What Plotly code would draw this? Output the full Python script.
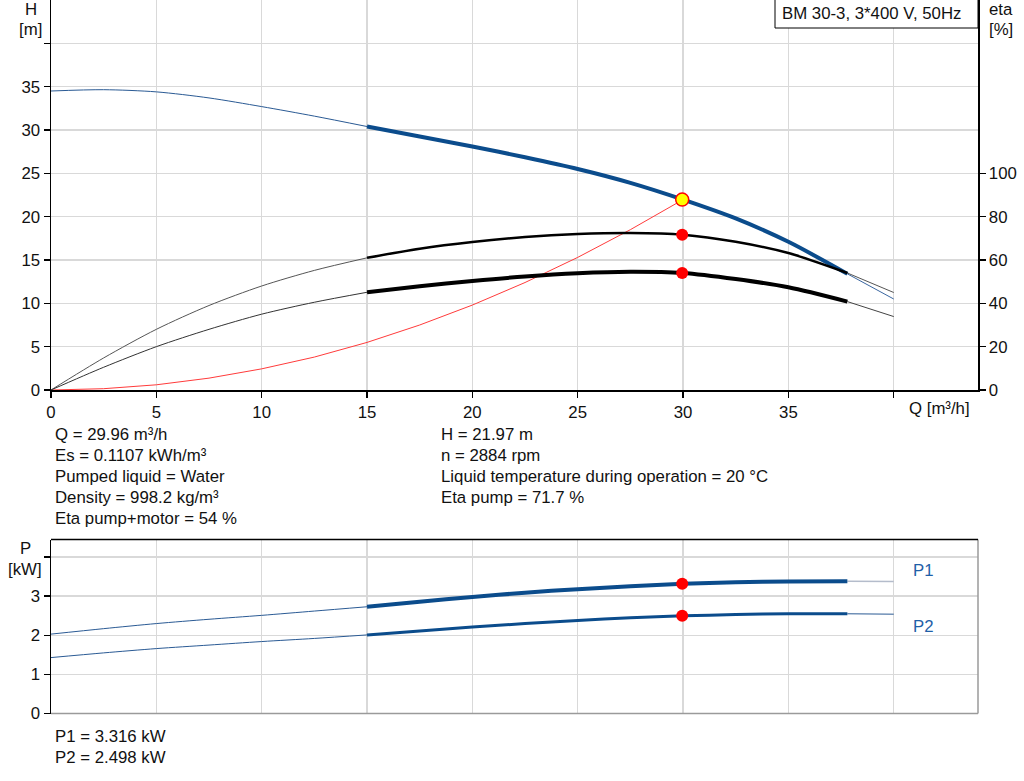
import plotly.graph_objects as go

# ---------------- data ----------------
Q = [0, 2.5, 5, 7.5, 10, 12.5, 15, 17.5, 20, 22.5, 25, 27.5, 30, 32.5, 35, 37.8, 40]
H = [34.5, 34.65, 34.4, 33.7, 32.7, 31.6, 30.4, 29.25, 28.1, 26.85, 25.5, 23.9, 21.97, 19.8, 17.1, 13.4, 10.5]
ETA_PUMP = [0, 14.8, 28, 39, 48, 55.2, 61, 65.2, 68.3, 70.6, 72, 72.5, 71.7, 68.4, 63.2, 54, 45]
ETA_PM = [0, 10.5, 20, 28, 35, 40.5, 45.1, 47.9, 50.3, 52.4, 53.9, 54.6, 54, 51.2, 47.4, 40.8, 33.9]
P1 = [2.03, 2.17, 2.30, 2.41, 2.51, 2.62, 2.73, 2.86, 2.98, 3.09, 3.18, 3.255, 3.316, 3.355, 3.375, 3.38, 3.375]
P2 = [1.43, 1.55, 1.66, 1.75, 1.84, 1.92, 2.01, 2.11, 2.21, 2.30, 2.38, 2.45, 2.498, 2.53, 2.55, 2.55, 2.54]

SYS_Q = [0, 2.5, 5, 7.5, 10, 12.5, 15, 17.5, 20, 22.5, 25, 27.5, 30]
SYS_H = [0, 0.15, 0.6, 1.37, 2.44, 3.8, 5.49, 7.5, 9.8, 12.4, 15.3, 18.5, 21.97]

Q_RANGE_MIN = 15
Q_RANGE_MAX = 37.8

OP_Q = 29.96
OP_H = 21.97
OP_ETA_PUMP = 71.7
OP_ETA_PM = 54
OP_P1 = 3.316
OP_P2 = 2.498

X_TICKS = [0, 5, 10, 15, 20, 25, 30, 35, 40]
X_LABELS = ["0", "5", "10", "15", "20", "25", "30", "35", ""]
H_TICKS = [0, 5, 10, 15, 20, 25, 30, 35, 40]
H_LABELS = ["0", "5", "10", "15", "20", "25", "30", "35", ""]
ETA_TICKS = [0, 20, 40, 60, 80, 100]
P_TICKS = [0, 1, 2, 3, 4]
P_LABELS = ["0", "1", "2", "3", ""]

INFO_LEFT = ["Q = 29.96 m³/h", "Es = 0.1107 kWh/m³", "Pumped liquid = Water",
             "Density = 998.2 kg/m³", "Eta pump+motor = 54 %"]
INFO_RIGHT = ["H = 21.97 m", "n = 2884 rpm", "Liquid temperature during operation = 20 °C",
              "Eta pump = 71.7 %"]
INFO_POWER = ["P1 = 3.316 kW", "P2 = 2.498 kW"]
TITLE_BOX = "BM 30-3, 3*400 V, 50Hz"

# ---------------- styling ----------------
W, HGT = 1024, 781
FONT = "Liberation Sans, Arial, sans-serif"
FS = 16.8
BLUE = "#0b4c8c"
TXT = "#111111"
GRID = "#d9d9d9"


def px(x):
    return x / W


def py(y):
    return 1 - y / HGT


def split(qs, vs):
    thin_l = [(q, v) for q, v in zip(qs, vs) if q <= Q_RANGE_MIN]
    thick = [(q, v) for q, v in zip(qs, vs) if Q_RANGE_MIN <= q <= Q_RANGE_MAX]
    thin_r = [(q, v) for q, v in zip(qs, vs) if q >= Q_RANGE_MAX]
    return thin_l, thick, thin_r


def line(pts, color, width, xa="x", ya="y"):
    return go.Scatter(x=[p[0] for p in pts], y=[p[1] for p in pts], mode="lines",
                      line=dict(color=color, width=width, shape="spline", smoothing=0.8),
                      xaxis=xa, yaxis=ya, hoverinfo="skip", showlegend=False)


fig = go.Figure()

# system curve
fig.add_trace(go.Scatter(x=SYS_Q, y=SYS_H, mode="lines", line=dict(color="#ff3b3b", width=1),
                         xaxis="x", yaxis="y", hoverinfo="skip", showlegend=False))

# H curve
l, t, r = split(Q, H)
fig.add_trace(line(l, "#2a5a94", 1))
fig.add_trace(line(r, "#3a66a0", 1))
fig.add_trace(line(t, BLUE, 4))

# eta pump
l, t, r = split(Q, ETA_PUMP)
fig.add_trace(line(l, "#555555", 1, ya="y2"))
fig.add_trace(line(r, "#555555", 1, ya="y2"))
fig.add_trace(line(t, "#000000", 2.5, ya="y2"))

# eta pump+motor
l, t, r = split(Q, ETA_PM)
fig.add_trace(line(l, "#333333", 1, ya="y2"))
fig.add_trace(line(r, "#444444", 1, ya="y2"))
fig.add_trace(line(t, "#000000", 4, ya="y2"))

# operating points top
fig.add_trace(go.Scatter(x=[OP_Q, OP_Q], y=[OP_ETA_PUMP, OP_ETA_PM], mode="markers",
                         marker=dict(color="#ff0000", size=12, line=dict(width=0)),
                         xaxis="x", yaxis="y2", hoverinfo="skip", showlegend=False))
fig.add_trace(go.Scatter(x=[OP_Q], y=[OP_H], mode="markers",
                         marker=dict(color="#ffff00", size=13, line=dict(color="#ff0000", width=1.5)),
                         xaxis="x", yaxis="y", hoverinfo="skip", showlegend=False))

# power curves
l, t, r = split(Q, P1)
fig.add_trace(line(l, "#2a5a94", 1, "x2", "y3"))
fig.add_trace(line(r, "#b4bccb", 1.5, "x2", "y3"))
fig.add_trace(line(t, BLUE, 4, "x2", "y3"))
l, t, r = split(Q, P2)
fig.add_trace(line(l, "#2a5a94", 1, "x2", "y3"))
fig.add_trace(line(r, "#2a5a94", 1, "x2", "y3"))
fig.add_trace(line(t, BLUE, 3, "x2", "y3"))
fig.add_trace(go.Scatter(x=[OP_Q, OP_Q], y=[OP_P1, OP_P2], mode="markers",
                         marker=dict(color="#ff0000", size=12, line=dict(width=0)),
                         xaxis="x2", yaxis="y3", hoverinfo="skip", showlegend=False))

x0, x1 = px(51), px(978)
top_dom = [py(390), 1.0]
bot_dom = [py(713.5), py(539.5)]

tickfont = dict(family=FONT, size=FS, color=TXT)
common_x = dict(range=[0, 44], tickvals=X_TICKS, showgrid=True, gridcolor=GRID, gridwidth=1.5,
                zeroline=False, ticklen=6, tickcolor="#000", tickwidth=1.5,
                tickfont=tickfont, fixedrange=True, automargin=False)

fig.update_layout(
    width=W, height=HGT, margin=dict(l=0, r=0, t=0, b=0, pad=0, autoexpand=False),
    paper_bgcolor="white", plot_bgcolor="white",
    font=dict(family=FONT, size=FS, color=TXT),
    hovermode=False,
    xaxis=dict(domain=[x0, x1], anchor="y", ticktext=X_LABELS, showline=True, ticks="outside",
               linecolor="#000", linewidth=1.5, **common_x),
    yaxis=dict(domain=top_dom, range=[0, 45], tickvals=H_TICKS, ticktext=H_LABELS,
               showgrid=True, gridcolor=GRID, gridwidth=1.5, zeroline=False, showline=True,
               linecolor="#000", linewidth=1.5, ticks="outside", ticklen=6, tickcolor="#000",
               tickwidth=1.5, tickfont=tickfont, anchor="x", fixedrange=True, automargin=False),
    yaxis2=dict(overlaying="y", side="right", anchor="x", range=[0, 180], tickvals=ETA_TICKS,
                showgrid=False, zeroline=False, showline=True, linecolor="#000", linewidth=1.5,
                ticks="outside", ticklen=6, tickcolor="#000", tickwidth=1.5, tickfont=tickfont,
                fixedrange=True, automargin=False),
    xaxis2=dict(domain=[x0, x1], anchor="y3", showticklabels=False, showline=False, ticks="",
                ticktext=[""] * len(X_TICKS), **common_x),
    yaxis3=dict(domain=bot_dom, range=[0, 4.45], tickvals=P_TICKS, ticktext=P_LABELS,
                showgrid=True, gridcolor=GRID, gridwidth=1.5, zeroline=False, showline=True,
                linecolor="#000", linewidth=1.5, ticks="outside", ticklen=6, tickcolor="#000",
                tickwidth=1.5, tickfont=tickfont, anchor="x2", fixedrange=True, automargin=False),
)

shapes = []
# lower plot border: gray right and bottom, black top
shapes.append(dict(type="line", xref="paper", yref="paper", x0=x1, x1=x1, y0=bot_dom[0], y1=bot_dom[1],
                   line=dict(color="#9a9a9a", width=1.5)))
shapes.append(dict(type="line", xref="paper", yref="paper", x0=x0, x1=x1, y0=bot_dom[0], y1=bot_dom[0],
                   line=dict(color="#9a9a9a", width=1.5)))
shapes.append(dict(type="line", xref="paper", yref="paper", x0=x0, x1=x1, y0=bot_dom[1], y1=bot_dom[1],
                   line=dict(color="#000000", width=1.5)))
# title box
shapes.append(dict(type="rect", xref="paper", yref="paper", x0=px(775), x1=x1, y0=py(28), y1=py(-2),
                   line=dict(color="#000", width=1), fillcolor="white", layer="above"))
fig.update_layout(shapes=shapes)

ann = []


def txt(text, x, y, xanchor="left", color=TXT, xref="paper", yref="paper"):
    ann.append(dict(text=text, x=x, y=y, xref=xref, yref=yref, xanchor=xanchor, yanchor="middle",
                    showarrow=False, font=dict(family=FONT, size=FS, color=color)))


txt(TITLE_BOX, px(780), py(14))
txt("H", px(31), py(10), "center")
txt("[m]", px(30), py(29), "center")
txt("eta", px(1001), py(10), "center")
txt("[%]", px(1001), py(29), "center")
txt("P", px(25), py(548), "center")
txt("[kW]", px(25), py(569), "center")
txt("Q [m³/h]", px(907), py(408))

for i, s in enumerate(INFO_LEFT):
    txt(s, px(53), py(434 + i * 21.2))
for i, s in enumerate(INFO_RIGHT):
    txt(s, px(439), py(434 + i * 21.2))
for i, s in enumerate(INFO_POWER):
    txt(s, px(53), py(736 + i * 21))

txt("P1", 40.8, 3.66, color="#1f5fa8", xref="x2", yref="y3")
txt("P2", 40.8, 2.22, color="#1f5fa8", xref="x2", yref="y3")

fig.update_layout(annotations=ann)
fig.write_html("out.html", config={"displayModeBar": False, "staticPlot": True},
               post_script="document.body.style.margin='0px';document.body.style.overflow='hidden';")
